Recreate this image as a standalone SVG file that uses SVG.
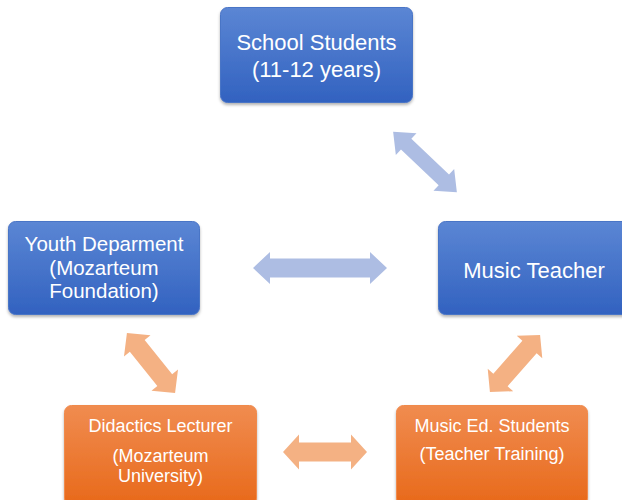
<svg xmlns="http://www.w3.org/2000/svg" width="622" height="500" viewBox="0 0 622 500">
<defs>
<linearGradient id="gb" x1="0" y1="0" x2="0" y2="1">
<stop offset="0" stop-color="#5b86d4"/>
<stop offset="1" stop-color="#3262c0"/>
</linearGradient>
<linearGradient id="go" x1="0" y1="0" x2="0" y2="1">
<stop offset="0" stop-color="#f08c50"/>
<stop offset="1" stop-color="#e8691a"/>
</linearGradient>
<filter id="sh" x="-10%" y="-10%" width="120%" height="130%">
<feDropShadow dx="0" dy="2" stdDeviation="1.5" flood-color="#000" flood-opacity="0.3"/>
</filter>
<style>
.bb{fill:url(#gb);stroke:#4a74c6;stroke-width:1;filter:url(#sh)}
.bo{fill:url(#go);stroke:#f08a4c;stroke-width:1;filter:url(#sh)}
.t{font-family:"Liberation Sans",Arial,sans-serif;fill:#fff;text-anchor:middle}
.ab{fill:#adbde3}
.ao{fill:#f4b183}
</style>
</defs>
<g id="connectors">
<path class="ab" d="M-44,0 L-26,-15 L-26,-7.5 L26,-7.5 L26,-15 L44,0 L26,15 L26,7.5 L-26,7.5 L-26,15 Z" transform="translate(425,162) rotate(43.6)"/>
<path class="ab" d="M-67,0 L-50,-16 L-50,-9.5 L50,-9.5 L50,-16 L67,0 L50,16 L50,9.5 L-50,9.5 L-50,16 Z" transform="translate(320,268)"/>
<path class="ao" d="M-38.5,0 L-22,-17 L-22,-9.5 L22,-9.5 L22,-17 L38.5,0 L22,17 L22,9.5 L-22,9.5 L-22,17 Z" transform="translate(151,363) rotate(51.3)"/>
<path class="ao" d="M-38,0 L-22,-17 L-22,-9.5 L22,-9.5 L22,-17 L38,0 L22,17 L22,9.5 L-22,9.5 L-22,17 Z" transform="translate(515,363.5) rotate(-48.7)"/>
<path class="ao" d="M-42,0 L-26,-17.5 L-26,-9.5 L26,-9.5 L26,-17.5 L42,0 L26,17.5 L26,9.5 L-26,9.5 L-26,17.5 Z" transform="translate(325,452)"/>
</g>
<g id="school-students">
<rect class="bb" x="220.5" y="7.5" width="192" height="95" rx="7"/>
<text class="t" x="316.5" y="50" font-size="22">School Students</text>
<text class="t" x="316.5" y="77" font-size="22">(11-12 years)</text>
</g>
<g id="youth-department">
<rect class="bb" x="8.5" y="221.5" width="191" height="93" rx="7"/>
<text class="t" x="104" y="251" font-size="20.5">Youth Deparment</text>
<text class="t" x="104" y="275" font-size="20.5">(Mozarteum</text>
<text class="t" x="104" y="298" font-size="20.5">Foundation)</text>
</g>
<g id="music-teacher">
<rect class="bb" x="438.5" y="221.5" width="195" height="93" rx="7"/>
<text class="t" x="534" y="278" font-size="22">Music Teacher</text>
</g>
<g id="didactics-lecturer">
<rect class="bo" x="64.5" y="405.5" width="192" height="100" rx="7"/>
<text class="t" x="160.5" y="432" font-size="18">Didactics Lecturer</text>
<text class="t" x="160.5" y="462" font-size="18">(Mozarteum</text>
<text class="t" x="160.5" y="482" font-size="18">University)</text>
</g>
<g id="music-ed-students">
<rect class="bo" x="396.5" y="405.5" width="191" height="100" rx="7"/>
<text class="t" x="492" y="432" font-size="18">Music Ed. Students</text>
<text class="t" x="492" y="460" font-size="18">(Teacher Training)</text>
</g>
</svg>
